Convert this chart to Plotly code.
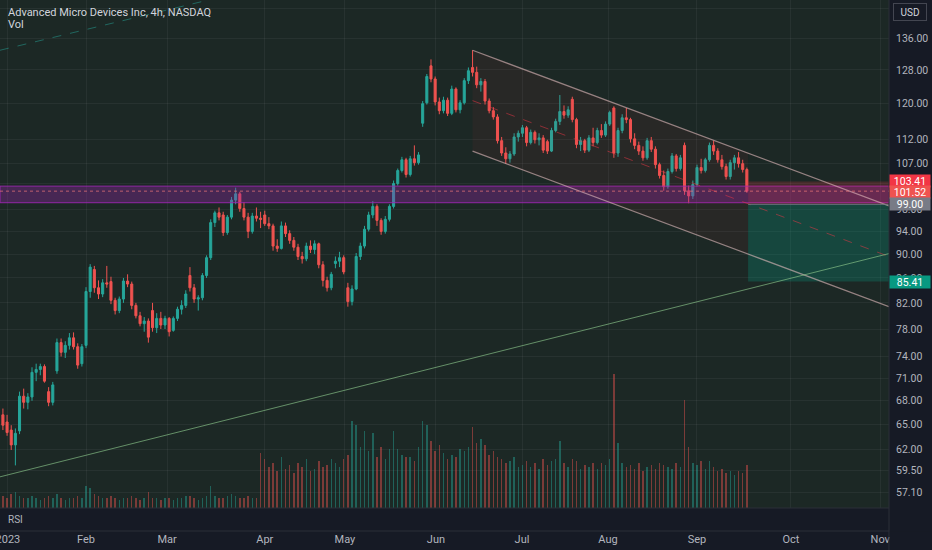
import math
import plotly.graph_objects as go

# AMD daily candles, bar index = trading day from 3 Jan 2023
opens = [66.2, 65.3, 64.3, 62.5, 64.2, 68.6, 67.8, 68.5, 71.8, 72.2,
         72.6, 69.2, 67.8, 72.0, 76.0, 74.6, 75.6, 76.7, 75.4, 73.0,
         75.6, 83.8, 87.4, 84.4, 83.4, 85.2, 85.4, 82.4, 80.8, 82.6,
         85.5, 85.0, 81.6, 80.0, 78.8, 79.2, 80.8, 78.2, 79.6, 78.6,
         79.6, 77.8, 79.6, 81.0, 81.6, 86.4, 84.4, 82.6, 82.8, 86.4,
         89.4, 95.6, 97.4, 97.0, 93.8, 96.6, 99.8, 101.0, 98.2, 96.6,
         94.0, 96.8, 96.4, 97.0, 95.4, 95.0, 91.4, 91.0, 95.0, 93.6,
         92.4, 91.2, 89.6, 89.2, 91.4, 90.8, 91.8, 88.2, 85.6, 84.4,
         88.4, 88.8, 89.4, 84.4, 82.2, 84.2, 89.6, 91.4, 94.4, 97.0,
         98.6, 96.0, 94.0, 96.2, 98.6, 103.0, 105.6, 107.8, 104.8, 108.0,
         107.2, 115.6, 120.2, 129.0, 125.8, 120.4, 118.4, 120.8, 117.8, 123.4,
         118.6, 120.2, 125.4, 128.6, 127.4, 124.4, 125.2, 120.6, 118.4, 117.0,
         111.8, 109.2, 108.0, 109.0, 112.6, 113.4, 114.6, 111.4, 113.6, 112.0,
         112.4, 111.6, 109.6, 114.0, 116.0, 118.2, 117.4, 121.0, 116.4, 111.0,
         111.8, 109.8, 112.4, 111.4, 114.0, 113.0, 115.4, 119.0, 109.2, 114.0,
         116.8, 116.4, 112.2, 110.8, 109.6, 108.2, 111.8, 110.0, 106.8, 104.6,
         102.4, 105.4, 108.6, 106.0, 110.8, 101.6, 100.6, 102.8, 106.2, 105.6,
         107.8, 110.8, 109.6, 107.8, 106.4, 104.4, 107.2, 108.2, 107.0, 105.8]
highs = [67.0, 66.2, 64.9, 64.5, 69.2, 69.6, 69.0, 72.5, 73.0, 73.0,
         72.9, 69.8, 70.5, 76.6, 76.6, 76.2, 77.4, 77.5, 75.9, 75.8,
         84.5, 88.3, 88.0, 85.6, 85.8, 88.0, 86.2, 82.8, 83.0, 86.0,
         86.6, 85.4, 82.0, 80.6, 79.8, 79.6, 82.0, 80.4, 80.6, 80.0,
         79.8, 79.9, 81.4, 82.4, 84.0, 87.8, 85.0, 83.2, 86.8, 89.8,
         96.2, 97.8, 98.4, 97.6, 97.0, 100.4, 102.2, 101.4, 99.4, 97.4,
         97.4, 98.4, 97.6, 97.8, 96.6, 95.4, 92.6, 95.8, 95.6, 94.2,
         93.0, 91.8, 90.4, 92.0, 92.4, 92.4, 92.0, 88.8, 86.2, 87.0,
         89.6, 90.4, 89.8, 85.2, 84.8, 90.2, 92.0, 95.0, 97.6, 99.6,
         99.0, 96.4, 96.8, 99.0, 103.6, 106.0, 108.4, 108.2, 108.6, 110.8,
         109.4, 120.6, 127.0, 130.6, 126.4, 121.4, 121.6, 121.4, 124.2, 123.8,
         120.8, 126.0, 128.6, 132.9, 128.8, 126.0, 125.8, 121.2, 119.2, 117.6,
         112.6, 110.4, 109.6, 113.4, 114.0, 115.2, 115.0, 114.2, 114.0, 113.4,
         113.0, 112.0, 114.6, 116.6, 122.0, 119.6, 119.4, 121.6, 116.8, 112.6,
         112.2, 113.0, 114.6, 114.6, 115.4, 116.0, 118.4, 119.4, 114.6, 117.6,
         119.0, 116.8, 113.4, 111.6, 110.6, 112.4, 112.6, 110.6, 107.2, 105.6,
         106.0, 109.2, 109.0, 108.8, 111.4, 102.6, 103.6, 106.8, 108.0, 108.2,
         111.4, 111.8, 110.2, 108.8, 107.0, 107.8, 108.8, 109.4, 107.8, 106.2]
lows = [64.3, 63.6, 61.9, 60.1, 63.8, 67.0, 66.9, 68.0, 70.6, 71.4,
        70.4, 67.3, 67.4, 71.6, 74.0, 73.8, 75.0, 75.0, 72.3, 72.6,
        75.2, 82.8, 83.6, 82.6, 82.9, 84.4, 81.8, 80.2, 80.4, 82.0,
        84.5, 81.0, 79.6, 78.4, 77.6, 76.0, 77.6, 77.4, 78.0, 78.0,
        76.9, 77.6, 79.2, 80.2, 81.2, 83.8, 82.0, 80.8, 82.4, 86.0,
        89.0, 94.8, 96.0, 93.2, 93.4, 96.2, 99.0, 97.6, 96.0, 92.8,
        93.6, 95.8, 94.6, 95.0, 94.4, 90.6, 90.4, 90.8, 93.0, 91.8,
        90.6, 89.0, 88.4, 88.8, 90.2, 90.0, 87.6, 84.6, 83.8, 84.0,
        87.6, 87.8, 86.6, 81.4, 81.6, 84.0, 89.0, 91.0, 94.0, 96.4,
        95.0, 93.4, 93.6, 95.8, 98.2, 102.6, 105.2, 104.2, 104.4, 106.6,
        106.8, 114.8, 119.8, 125.0, 119.6, 117.6, 117.8, 117.2, 117.4, 118.0,
        117.8, 119.8, 124.6, 126.4, 123.6, 122.8, 119.8, 117.8, 116.4, 111.2,
        108.6, 107.0, 107.2, 108.6, 111.6, 112.6, 110.6, 111.0, 111.2, 110.8,
        109.2, 109.0, 109.4, 113.6, 115.2, 116.6, 116.8, 115.8, 110.2, 109.6,
        109.2, 109.4, 110.6, 111.0, 112.4, 112.6, 115.0, 108.2, 108.4, 113.4,
        115.6, 111.4, 110.0, 108.8, 107.6, 107.8, 109.4, 106.0, 104.0, 101.6,
        102.0, 105.0, 105.4, 105.6, 100.8, 99.2, 100.0, 102.4, 105.0, 105.2,
        107.4, 108.8, 107.2, 105.8, 103.8, 103.8, 105.8, 106.2, 105.2, 101.2]
closes = [64.9, 64.0, 62.5, 63.9, 68.6, 67.8, 68.5, 71.8, 72.2, 72.6,
          70.6, 67.8, 70.1, 76.0, 74.6, 75.6, 76.7, 75.4, 72.8, 75.4,
          83.8, 87.8, 84.4, 83.4, 85.2, 85.0, 82.4, 80.8, 82.6, 85.5,
          85.0, 81.6, 80.0, 78.8, 79.2, 76.8, 78.2, 79.6, 78.6, 79.6,
          77.6, 79.6, 81.0, 81.6, 83.4, 84.4, 82.6, 82.8, 86.4, 89.4,
          95.6, 97.4, 96.6, 93.8, 96.6, 99.8, 101.0, 98.2, 96.6, 94.0,
          96.8, 96.4, 96.2, 95.4, 95.0, 91.4, 91.0, 95.0, 93.6, 92.4,
          91.2, 89.6, 89.2, 91.4, 90.8, 91.8, 88.2, 85.6, 84.4, 86.6,
          88.8, 89.4, 87.0, 82.2, 84.2, 89.6, 91.4, 94.4, 97.0, 98.6,
          96.0, 94.0, 96.2, 98.6, 103.0, 105.6, 107.8, 104.8, 108.0, 107.2,
          108.8, 120.0, 126.4, 125.8, 120.4, 118.4, 120.8, 117.8, 123.4, 118.6,
          120.2, 125.4, 127.8, 127.4, 124.4, 125.2, 120.6, 118.4, 117.0, 111.8,
          109.2, 108.0, 109.0, 112.6, 113.4, 114.6, 111.4, 113.6, 112.0, 112.4,
          109.8, 109.6, 114.0, 116.0, 118.2, 117.4, 118.6, 116.4, 111.0, 111.8,
          109.8, 112.4, 111.4, 114.0, 113.0, 115.4, 118.0, 109.2, 114.0, 116.8,
          116.4, 112.2, 110.8, 109.6, 108.2, 111.8, 110.0, 106.8, 104.6, 102.4,
          105.4, 108.6, 106.0, 108.2, 101.6, 100.6, 102.8, 106.2, 105.6, 107.8,
          110.8, 109.6, 107.8, 106.4, 104.4, 107.2, 108.2, 107.0, 105.8, 101.52]
# volume in millions
volumes = [6, 5, 7, 8, 6, 5, 5, 6, 5, 4, 5, 6, 5, 7, 5, 4, 5, 5, 6, 5,
           11, 10, 7, 6, 5, 5, 6, 5, 4, 5, 5, 6, 5, 4, 5, 8, 5, 5, 4,
           5, 5, 4, 5, 5, 6, 6, 5, 4, 5, 6, 11, 6, 5, 5, 6, 7, 6, 5, 5, 6, 5, 5,
           27, 24, 20, 22, 18, 25, 19, 21, 17, 22, 20, 24, 18, 19, 23, 20, 21, 24, 22,
           20, 24, 26, 43, 41, 30, 38, 28, 37, 25, 30, 24, 29, 38, 29, 26, 25, 25, 23,
           30, 43, 41, 33,
           28, 31, 27, 24, 26, 25, 29, 28, 30, 40, 32, 34, 31, 26, 28, 25, 24, 22, 23,
           25, 20,
           21, 23, 20, 22, 19, 24, 21, 23, 24, 33, 22, 20, 24, 23, 19, 21, 20, 22, 19, 22,
           21, 24, 66, 32, 22, 20, 21, 19, 22, 18, 20, 21, 19, 22, 21, 20, 19, 22, 20,
           53, 30, 22,
           21, 23, 19, 23, 20, 18, 19, 17, 18, 16, 18, 17, 21]
bars = list(range(len(closes)))

month_pos = [1.2, 20, 39.5, 63, 82.3, 104.2, 124.9, 145.6, 167, 189.6, 211.1]
month_txt = ["2023", "Feb", "Mar", "Apr", "May", "Jun", "Jul", "Aug", "Sep", "Oct", "Nov"]
price_ticks = [144, 136, 128, 120, 112, 107, 103, 98, 94, 90, 86, 82, 78,
               74, 71, 68, 65, 62, 59.5, 57.1]
hidden_ticks = [144, 103]   # grid only, label sits behind the USD / price boxes

# drawings, anchors as (bar index, price)
chan_x = [113, 213.2]
chan_top = [132.9, 98.7]
chan_mid = [120.7, 89.6]
chan_bot = [109.6, 81.4]
chan_fill_x = [113, 179.3, 179.3, 113, 113]
chan_fill_y = [132.9, 109.1, 90.1, 109.6, 132.9]
support_x = [-0.7, 213.2]
support_y = [58.8, 90.1]
dash_x = [-0.7, 49.1]
dash_y = [132.9, 146.2]
zone_lo, zone_hi = 99.3, 102.5
entry, stop, target = 99.0, 103.41, 85.41
last_price = 101.52
pos_start = 179.3
x_lo, x_hi = -0.7, 213.2

GREEN = "#26a69a"
RED = "#ef5350"
TXT = "#b2b5be"
FONT = "Roboto, Noto Sans, sans-serif"


def box(x0, x1, p0, p1, fill, line=None):
    return go.Scatter(x=[x0, x1, x1, x0, x0], y=[p0, p0, p1, p1, p0],
                      mode="lines", fill="toself", fillcolor=fill,
                      line=dict(width=1 if line else 0, color=line or "rgba(0,0,0,0)"),
                      hoverinfo="skip")


def seg(xs, ys, color, dash="solid", width=1):
    return go.Scatter(x=xs, y=ys, mode="lines", hoverinfo="skip",
                      line=dict(color=color, width=width, dash=dash))


fig = go.Figure()

# zones
fig.add_trace(box(x_lo, x_hi, zone_lo, zone_hi, "rgba(156,39,176,0.34)", "rgba(156,39,176,0.9)"))
fig.add_trace(go.Scatter(x=chan_fill_x, y=chan_fill_y, mode="lines", fill="toself",
                         fillcolor="rgba(242,54,69,0.06)", line=dict(width=0),
                         hoverinfo="skip"))
fig.add_trace(box(pos_start, x_hi, entry, stop, "rgba(242,54,69,0.2)"))
fig.add_trace(box(pos_start, x_hi, target, entry, "rgba(8,153,129,0.28)"))

# volume
vol_colors = ["rgba(38,166,154,0.45)" if c >= o else "rgba(239,83,80,0.45)"
              for o, c in zip(opens, closes)]
fig.add_trace(go.Bar(x=bars, y=volumes, yaxis="y2", width=0.35,
                     marker=dict(color=vol_colors, line=dict(width=0)),
                     hoverinfo="skip"))

fig.add_trace(go.Candlestick(
    x=bars, open=opens, high=highs, low=lows, close=closes,
    increasing=dict(line=dict(color=GREEN, width=1), fillcolor=GREEN),
    decreasing=dict(line=dict(color=RED, width=1), fillcolor=RED),
    whiskerwidth=0, hoverinfo="skip"))

# lines
fig.add_trace(seg(chan_x, chan_top, "rgba(230,190,192,0.6)", width=1.2))
fig.add_trace(seg(chan_x, chan_bot, "rgba(230,190,192,0.6)", width=1.2))
fig.add_trace(seg(chan_x, chan_mid, "rgba(242,54,69,0.5)", dash="dash"))
fig.add_trace(seg(support_x, support_y, "rgba(140,200,140,0.65)"))
fig.add_trace(seg(dash_x, dash_y, "rgba(38,166,154,0.5)", dash="dash"))
fig.add_trace(seg([pos_start, x_hi], [entry, entry], "rgba(120,123,134,0.9)"))
fig.add_trace(seg([x_lo, x_hi], [last_price, last_price], "rgba(239,120,120,0.7)", dash="dot"))

pane = 23 / 531
grid = "rgba(255,255,255,0.05)"

fig.update_layout(
    width=932, height=550,
    margin=dict(l=0, r=43, t=0, b=19, autoexpand=False),
    paper_bgcolor="#161a25", plot_bgcolor="#1c2825",
    showlegend=False,
    font=dict(family=FONT, color=TXT, size=11),
    xaxis=dict(range=[x_lo, x_hi], tickvals=month_pos, ticktext=month_txt,
               showgrid=True, gridcolor=grid, zeroline=False, showline=False,
               ticks="", anchor="free", position=0, ticklabeloverflow="allow",
               automargin=False, rangeslider=dict(visible=False),
               tickfont=dict(color=TXT, size=11)),
    yaxis=dict(type="log", range=[math.log10(55.4), math.log10(146.3)],
               domain=[pane, 1], side="right", tickvals=price_ticks,
               ticktext=["" if v in hidden_ticks else f"{v:.2f}" for v in price_ticks],
               showgrid=True, gridcolor=grid, zeroline=False, ticks="",
               automargin=False, ticklabelstandoff=6,
               tickfont=dict(color=TXT, size=10.5)),
    yaxis2=dict(overlaying="y", range=[0, 250], visible=False, automargin=False),
    bargap=0,
)

fig.add_shape(type="line", xref="paper", yref="paper", x0=0, x1=1, y0=pane, y1=pane,
              line=dict(color="#2a2e39", width=1))
fig.add_shape(type="line", xref="paper", yref="paper", x0=0, x1=1, y0=0, y1=0,
              line=dict(color="#2a2e39", width=1))
fig.add_shape(type="line", xref="paper", yref="paper", x0=1, x1=1, y0=-0.04, y1=1,
              line=dict(color="#2a2e39", width=1))
fig.add_shape(type="rect", xref="paper", yref="paper", x0=1.001, x1=1.1, y0=-0.05, y1=-0.001,
              fillcolor="#161a25", line=dict(width=0), layer="above")

fig.add_annotation(xref="paper", yref="paper", x=0, y=1, xanchor="left", yanchor="top",
                   xshift=6, yshift=-4, showarrow=False,
                   text="Advanced Micro Devices Inc, 4h, NASDAQ",
                   font=dict(color="#d1d4dc", size=11))
fig.add_annotation(xref="paper", yref="paper", x=0, y=1, xanchor="left", yanchor="top",
                   xshift=6, yshift=-16, showarrow=False, text="Vol",
                   font=dict(color="#d1d4dc", size=11))
fig.add_annotation(xref="paper", yref="paper", x=0, y=pane / 2, xanchor="left",
                   yanchor="middle", xshift=6, showarrow=False, text="RSI",
                   font=dict(color=TXT, size=10))
fig.add_annotation(xref="paper", yref="paper", x=1, y=1, xanchor="center", yanchor="top",
                   xshift=21, yshift=-3, showarrow=False, text="USD", width=30, height=14,
                   bgcolor="#161a25", bordercolor="#434651", borderwidth=1,
                   font=dict(color="#d1d4dc", size=10))

# price boxes; the two red ones are nudged apart so they just touch
for price, color, nudge in [(stop, "#f23645", 1), (last_price, "#ef5350", -1),
                            (entry, "#787b86", 0), (target, "#089981", 0)]:
    fig.add_annotation(xref="paper", yref="y", x=1, y=math.log10(price), yshift=nudge,
                       xanchor="left", yanchor="middle", showarrow=False,
                       text=f"{price:.2f}", width=38, height=10, bgcolor=color,
                       font=dict(color="#ffffff", size=10.5))

# page body has a default margin, drop it so the chart sits at the window corner
fig.write_html("out.html", config={"displayModeBar": False},
               post_script="document.body.style.margin='0';")
